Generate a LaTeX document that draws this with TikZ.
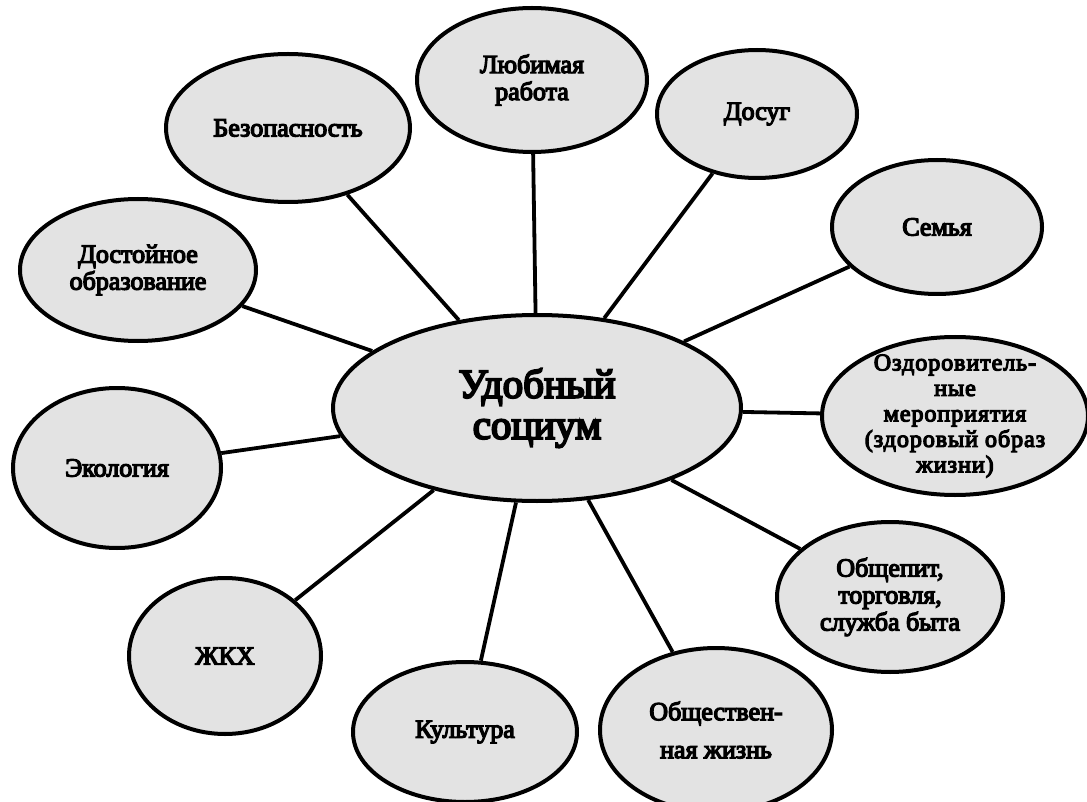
\documentclass[tikz,border=0pt]{standalone}
\usepackage{fontspec}
\setmainfont{Liberation Serif}
\newfontfamily\heavyfont{Liberation Serif}[FakeBold=5]
\usetikzlibrary{shapes.geometric}

\tikzset{
  bubble/.style={ellipse, draw, line width=4pt, fill=black!11, inner sep=2pt, align=center,
    font=\heavyfont\fontsize{26}{27}\selectfont},
  link/.style={line width=3.8pt}
}

\begin{document}
\begin{tikzpicture}[x=1pt,y=-1pt]
				\useasboundingbox (0,0) rectangle (1087,802);
				
				% Centre
				\node[bubble, minimum width=408, minimum height=186, font=\heavyfont\fontsize{41}{41}\selectfont] (socium) at (537,408) {Удобный\\социум};
				
				% Outer ring
				\node[bubble, minimum width=230, minimum height=144] (rabota) at (532,80) {Любимая\\работа};
				\node[bubble, minimum width=244, minimum height=148] (bezop) at (288,128) {Безопасность};
				\node[bubble, minimum width=200, minimum height=128] (dosug) at (757,114) {Досуг};
				\node[bubble, minimum width=210, minimum height=134] (semya) at (937,227) {Семья};
				\node[bubble, minimum width=236, minimum height=142] (obraz) at (138,270) {Достойное\\образование};
				\node[bubble, minimum width=266, minimum height=158, inner ysep=-16pt,
				      font=\heavyfont\fontsize{24}{25.5}\selectfont\addfontfeatures{LetterSpace=4}] (ozdor) at (955,416) {Оздоровитель-\\ные\\мероприятия\\(здоровый образ\\жизни)};
				\node[bubble, minimum width=208, minimum height=160] (ekol) at (117,468) {Экология};
				\node[bubble, minimum width=226, minimum height=150] (pit) at (890,597) {Общепит,\\торговля,\\служба быта};
				\node[bubble, minimum width=192, minimum height=156] (zhkh) at (225,656) {ЖКХ};
				\node[bubble, minimum width=224, minimum height=140] (kult) at (465,732) {Культура};
				\node[bubble, minimum width=232, minimum height=164, font=\heavyfont\fontsize{26}{38}\selectfont] (obsch) at (716,730) {Обществен-\\ная жизнь};
				
				% Spokes
				\foreach \n in {rabota,bezop,dosug,semya,obraz,ozdor,ekol,pit,zhkh,kult,obsch}
				  \draw[link] (socium) -- (\n);
			\end{tikzpicture}
\end{document}
